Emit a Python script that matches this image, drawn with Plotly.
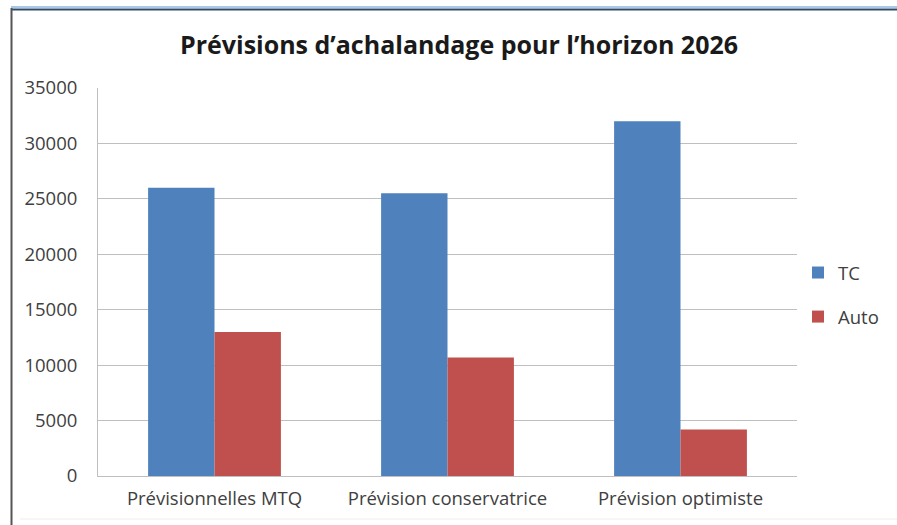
import plotly.graph_objects as go

categories = ["Prévisionnelles MTQ", "Prévision conservatrice", "Prévision optimiste"]
tc_values = [26000, 25500, 32000]
auto_values = [13000, 10700, 4200]
y_ticks = [0, 5000, 10000, 15000, 20000, 25000, 30000, 35000]
y_tick_labels = ["0", "5000", "10000", "15000", "20000", "25000", "30000", "35000"]

W, H = 897, 525
ML, MR, MT, MB = 98, 100, 88, 49
PW = W - ML - MR
PH = H - MT - MB

def px_x(x):
    return (x - ML) / PW

def px_y(y):
    return (H - MB - y) / PH

fig = go.Figure()
fig.add_trace(go.Bar(name="TC", x=categories, y=tc_values, marker_color="#4F81BD",
                     marker_line_width=0, legendgroup="a"))
fig.add_trace(go.Bar(name="Auto", x=categories, y=auto_values, marker_color="#C0504D",
                     marker_line_width=0, legendgroup="b"))

fig.update_layout(
    width=W, height=H,
    margin=dict(l=ML, r=MR, t=MT, b=MB),
    paper_bgcolor="white", plot_bgcolor="white",
    barmode="group", bargap=0.43, bargroupgap=0,
    font=dict(family="Open Sans", size=18.5, color="#404040"),
    title=dict(text="<b>Prévisions d’achalandage pour l’horizon 2026</b>",
               x=459 / W, xanchor="center", y=1 - 45 / H, yanchor="middle",
               font=dict(family="Open Sans", size=25, color="#1a1a1a")),
    legend=dict(x=px_x(798), xanchor="left", y=px_y(254), yanchor="top",
                tracegroupgap=17, font=dict(size=18.5, color="#404040"),
                bgcolor="rgba(0,0,0,0)"),
    showlegend=True,
)
fig.update_yaxes(range=[0, 35000], tickvals=y_ticks, ticktext=y_tick_labels,
                 showgrid=True, gridcolor="#BFBFBF",
                 gridwidth=1, showline=True, linecolor="#BFBFBF", linewidth=1,
                 zeroline=False, ticks="", ticklabelstandoff=16, fixedrange=True)
fig.update_xaxes(showline=True, linecolor="#BFBFBF", linewidth=1, ticks="",
                 ticklabelstandoff=6, fixedrange=True)

# outer frame (screenshot border)
fig.add_shape(type="line", xref="paper", yref="paper",
              x0=px_x(11), x1=px_x(W + 5), y0=px_y(7), y1=px_y(7),
              line=dict(color="#A9C8E8", width=2))
fig.add_shape(type="line", xref="paper", yref="paper",
              x0=px_x(11), x1=px_x(W + 5), y0=px_y(9.5), y1=px_y(9.5),
              line=dict(color="#2E4A6B", width=2))
fig.add_shape(type="line", xref="paper", yref="paper",
              x0=px_x(11.5), x1=px_x(11.5), y0=px_y(8), y1=px_y(H + 5),
              line=dict(color="#555555", width=2))
fig.add_shape(type="line", xref="paper", yref="paper",
              x0=px_x(20), x1=px_x(W), y0=px_y(519), y1=px_y(519),
              line=dict(color="#EEEEEE", width=1))

fig.write_html("out.html")
